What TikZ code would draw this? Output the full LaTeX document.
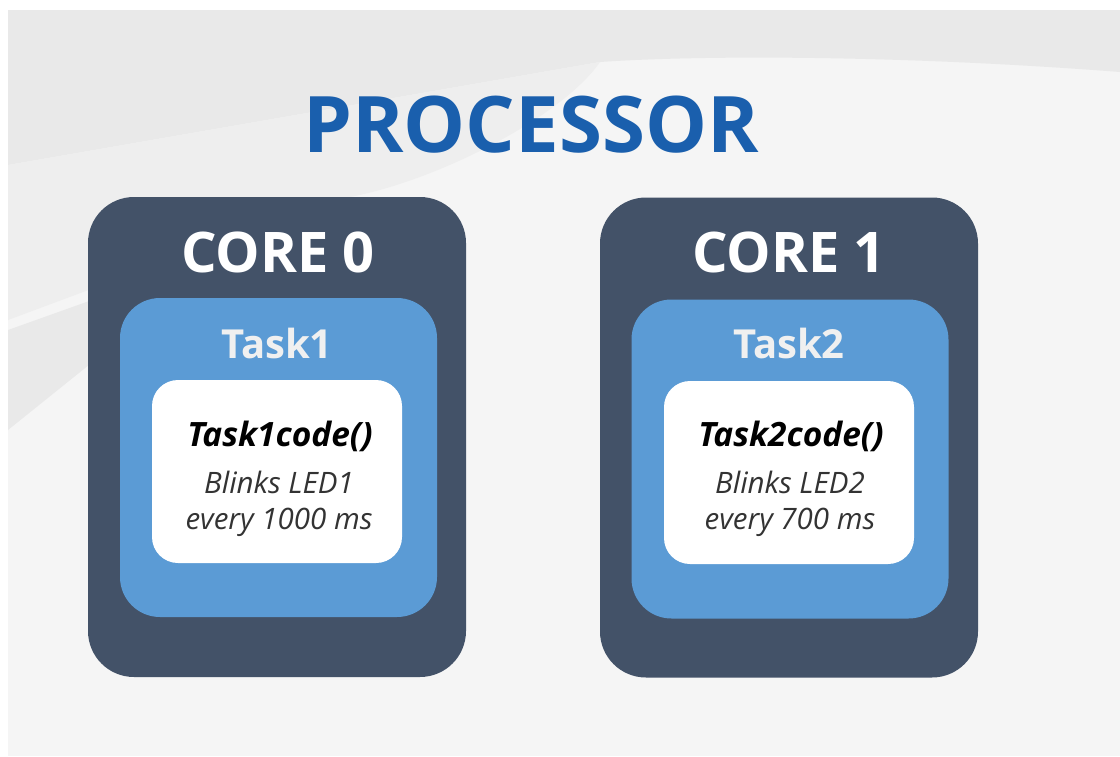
\documentclass[tikz,border=0pt]{standalone}
\usepackage{fontspec}
\setmainfont{Open Sans}
\definecolor{coredark}{HTML}{435268}
\definecolor{taskblue}{HTML}{5B9BD5}
\definecolor{titleblue}{HTML}{1A5FAD}
\definecolor{bgA}{HTML}{F5F5F5}
\definecolor{bgB}{HTML}{E9E9E9}
\definecolor{bgC}{HTML}{EEEEEE}
\begin{document}
\begin{tikzpicture}[x=1pt,y=-1pt,
  corebox/.style={fill=coredark,rounded corners=46pt,minimum width=378pt,minimum height=480pt,inner sep=0pt,draw=none},
  taskbox/.style={fill=taskblue,rounded corners=40pt,minimum width=317pt,minimum height=319pt,inner sep=0pt,draw=none},
  codebox/.style={fill=white,rounded corners=26pt,minimum width=250pt,minimum height=183pt,inner sep=0pt,draw=none},
  titletxt/.style={anchor=base,inner sep=0pt,text=titleblue,font=\fontsize{78}{80}\selectfont\bfseries},
  coretxt/.style={anchor=base,inner sep=0pt,text=white,font=\fontsize{56}{60}\selectfont\bfseries},
  tasktxt/.style={anchor=base,inner sep=0pt,text=white!94!black,font=\fontsize{40}{42}\selectfont\bfseries},
  codetxt/.style={anchor=base,inner sep=0pt,text=black,font=\fontsize{33.5}{36}\selectfont\bfseries\itshape},
  desctxt/.style={anchor=base,inner sep=0pt,text=black!80,font=\fontsize{29.5}{32}\selectfont\itshape}]
\useasboundingbox (0,0) rectangle (1120,756);
% background
\fill[white] (0,0) rectangle (1120,756);
\fill[bgA] (8,10) rectangle (1120,756);
\fill[bgB] (8,10) -- (1120,10) -- (1120,72) .. controls (900,55) and (700,55) .. (600,62) -- (8,165) -- cycle;
\fill[bgC] (8,165) -- (600,62) .. controls (560,120) and (420,190) .. (330,200) -- (8,320) -- cycle;
\fill[bgB] (8,330) -- (120,290) -- (120,340) -- (8,430) -- cycle;
% title
\node[titletxt] (title) at (531,152) {PROCESSOR};
% core 0
\node[corebox] (core0) at (277,437) {};
\node[taskbox] (task0) at (278.5,457.5) {};
\node[codebox] (code0) at (277,471.5) {};
\node[coretxt] (core0lbl) at (278,272) {CORE 0};
\node[tasktxt] (task0lbl) at (277,358) {Task1};
\node[codetxt] (code0lbl) at (280,446) {Task1code()};
\node[desctxt] (desc0a) at (279,493) {Blinks LED1};
\node[desctxt] (desc0b) at (279,529) {every 1000 ms};
% core 1
\node[corebox] (core1) at (789,437.5) {};
\node[taskbox] (task1) at (790,459) {};
\node[codebox] (code1) at (789,472.5) {};
\node[coretxt] (core1lbl) at (789,272) {CORE 1};
\node[tasktxt] (task1lbl) at (789,358) {Task2};
\node[codetxt] (code1lbl) at (791,446) {Task2code()};
\node[desctxt] (desc1a) at (790,493) {Blinks LED2};
\node[desctxt] (desc1b) at (790,529) {every 700 ms};
\end{tikzpicture}
\end{document}
